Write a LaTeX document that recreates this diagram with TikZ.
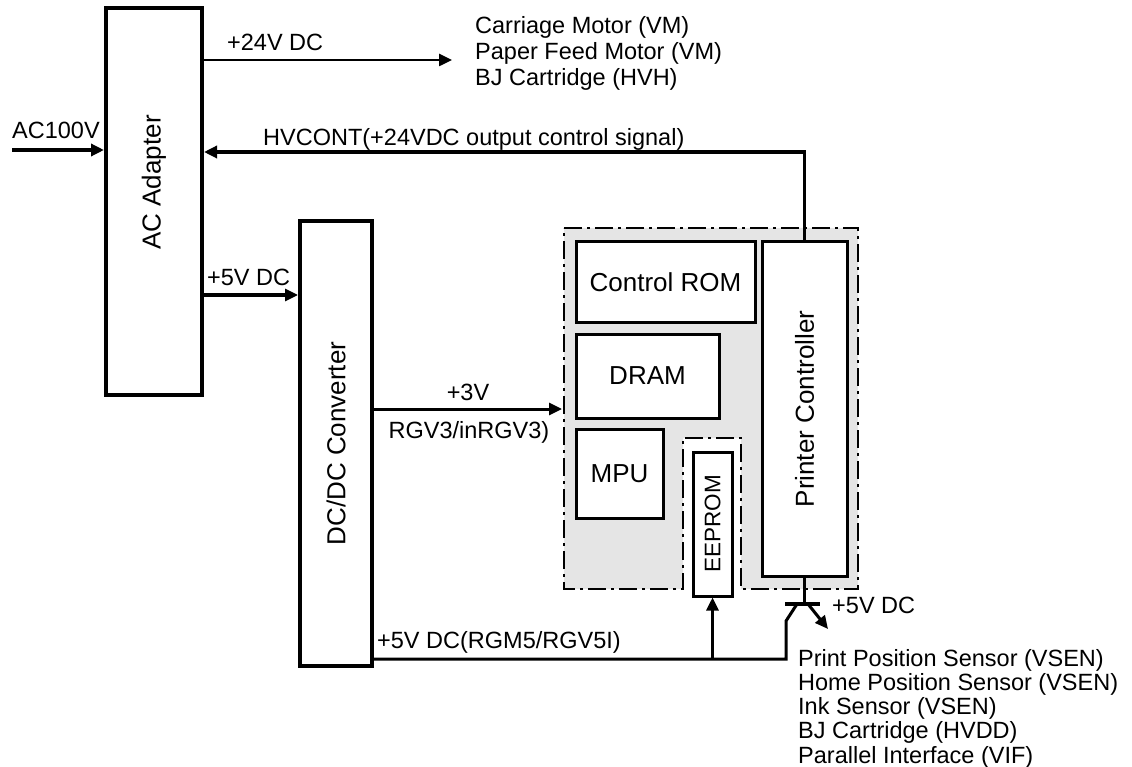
\documentclass[tikz,border=0pt]{standalone}
\usepackage{graphicx}
\usepackage{fontspec}
\setmainfont{Liberation Sans}
\usetikzlibrary{arrows.meta,positioning}

\begin{document}
\begin{tikzpicture}[
  x=1pt, y=-1pt,
  font=\fontsize{23.5}{26}\selectfont,
  box/.style={
    draw,
    line width=3pt,
    fill=white,
    inner sep=0pt,
    font=\fontsize{26}{28}\selectfont
  },
  unit/.style={box,line width=4pt},
  board/.style={
    draw,
    line width=2.5pt,
    fill=black!10,
    dash pattern=on 18pt off 5pt on 3pt off 5pt
  },
  tag/.style={inner sep=0pt},
  arrow/.style={-{Triangle[length=13pt,width=12pt]},line width=3pt},
  wire/.style={line width=3pt}
]
  \useasboundingbox (0,0) rectangle (1132,767);

  \draw[board] (564,228) -- (858,228) -- (858,589) -- (741,589) -- (741,438)
    -- (683,438) -- (683,589) -- (564,589) -- cycle;

  \node[unit,minimum width=96pt,minimum height=387pt] (adapter) at (154,201.5) {};
  \node[rotate=90,font=\fontsize{26}{28}\selectfont] (adaptername) at ([yshift=19pt]adapter.center) {AC Adapter};
  \node[unit,minimum width=72pt,minimum height=445pt] (dcdc) at (336,443.5) {\rotatebox{90}{DC/DC Converter}};
  \node[box,minimum width=179pt,minimum height=80pt] (rom) at (665.5,282) {Control ROM};
  \node[box,minimum width=143pt,minimum height=84pt,below=9pt of rom.south west,anchor=north west] (dram) {DRAM};
  \node[box,minimum width=87pt,minimum height=89pt,below=8pt of dram.south west,anchor=north west] (mpu) {MPU};
  \node[box,minimum width=85pt,minimum height=334pt,right=4pt of rom.north east,anchor=north west] (printer) {\rotatebox{90}{Printer Controller}};
  \node[box,minimum width=39pt,minimum height=144pt,font=\fontsize{22.5}{24}\selectfont] (eeprom) at (712.5,524) {\rotatebox{90}{EEPROM}};

  \coordinate (acin) at (12,150);
  \coordinate (motors) at (452,60);
  \coordinate (hv) at (0,152);
  \coordinate (dc5) at (0,295);
  \coordinate (dc3) at (562,409);
  \coordinate (bus) at (786,659);
  \coordinate (tr) at (804,604);

  \draw[arrow,line width=3.5pt] (acin) -- (acin -| adapter.west);
  \draw[arrow,line width=2.5pt] (motors -| adapter.east) -- (motors);
  \draw[arrow,line width=3.5pt] (printer.north) |- (hv -| adapter.east);
  \draw[arrow] (dc5 -| adapter.east) -- (dc5 -| dcdc.west);
  \draw[arrow] (dc3 -| dcdc.east) -- (dc3);
  \draw[wire] (bus -| dcdc.east) -- (bus) -- ++(0,-38) -- ++(11,-17);
  \draw[arrow] (bus -| eeprom.south) -- (eeprom.south);
  \draw[wire] (printer.south) -- (printer.south |- tr);
  \draw[line width=4pt] ([xshift=-19pt]tr) -- ([xshift=16pt]tr);
  \draw[arrow] ([xshift=4pt]tr) -- ([xshift=24pt,yshift=-25pt]tr);

  \node[tag,anchor=base west] (aclabel) at (12,138.5) {AC100V};
  \node[tag,anchor=base west] (v24label) at (227,50.5) {+24V DC};
  \node[tag,anchor=north west,align=left] (motorlist) at (475,16) {Carriage Motor (VM)\\Paper Feed Motor (VM)\\BJ Cartridge (HVH)};
  \node[tag,anchor=base west] (hvlabel) at (263,145.5) {HVCONT(+24VDC output control signal)};
  \node[tag,anchor=base west] (v5label) at (207,285.5) {+5V DC};
  \node[tag,anchor=base] (v3label) at (468,400.5) {+3V};
  \node[tag,anchor=base] (rgv3label) at (469,438.5) {RGV3/inRGV3)};
  \node[tag,anchor=base west] (buslabel) at (377,648.5) {+5V DC(RGM5/RGV5I)};
  \node[tag,anchor=base west] (trlabel) at (832,613.5) {+5V DC};
  \node[tag,anchor=north west,align=left,font=\fontsize{23.5}{24.25}\selectfont] (sensorlist) at (798,649)
    {Print Position Sensor (VSEN)\\Home Position Sensor (VSEN)\\Ink Sensor (VSEN)\\BJ Cartridge (HVDD)\\Parallel Interface (VIF)};
\end{tikzpicture}
\end{document}
